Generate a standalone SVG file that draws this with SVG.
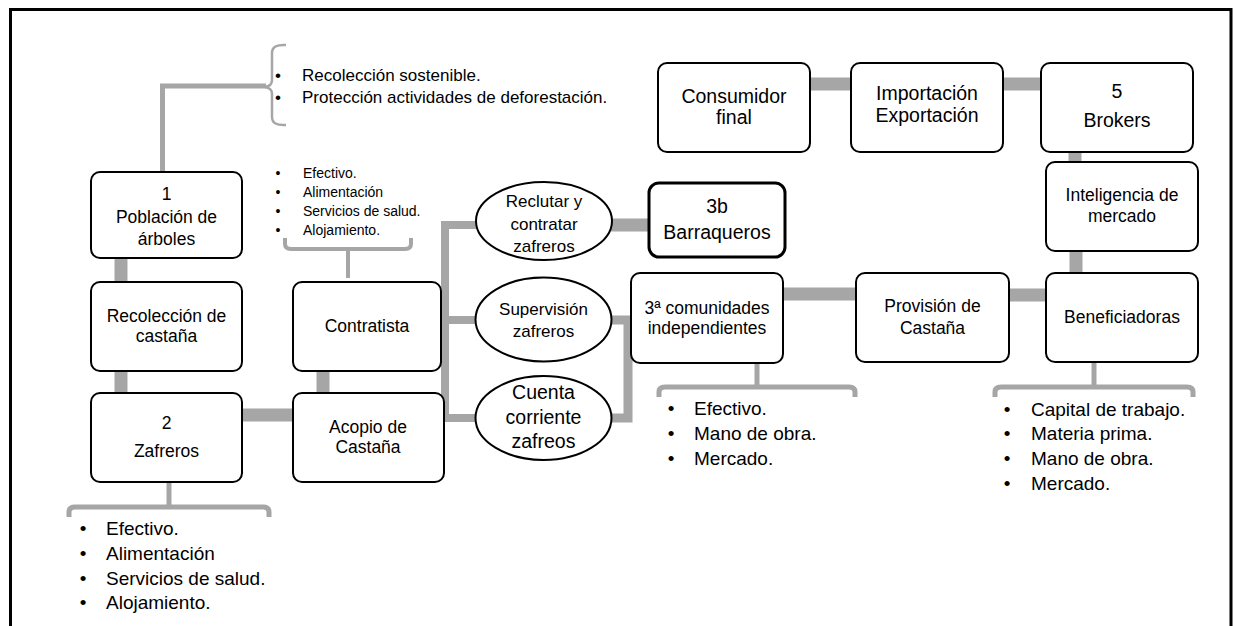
<svg xmlns="http://www.w3.org/2000/svg" width="1235" height="626" viewBox="0 0 1235 626">
<style>
.box{fill:#fff;stroke:#000;stroke-width:2}
.box3{fill:#fff;stroke:#000;stroke-width:3}
.ell{fill:#fff;stroke:#000;stroke-width:2}
.con{fill:none;stroke:#a6a6a6;stroke-width:13}
.thin{fill:none;stroke:#a6a6a6;stroke-width:5}
.br{fill:none;stroke:#a6a6a6;stroke-width:2.5}
text{font-family:"Liberation Sans",Arial,sans-serif;fill:#000}
.n{font-size:17.5px;text-anchor:middle}
.nt{font-size:19.5px;text-anchor:middle}
.ns{font-size:17px;text-anchor:middle}
.l1{font-size:17px}
.l2{font-size:14px}
.l3{font-size:19px}
.b{text-anchor:middle}
</style>
<rect x="0" y="0" width="1235" height="626" fill="#fff"/>
<path d="M10.5,626 V9.5 H1231 V626" fill="none" stroke="#000" stroke-width="3"/>

<g id="connectors">
<path class="thin" d="M162.5,172 V86 H266"/>
<path class="br" d="M286,45 Q272,44 272,53 V80 Q272,86 265,87 Q272,88 272,94 V117 Q272,126 286,125"/>
<path class="con" d="M121,258 V282"/>
<path class="con" d="M121,371 V393"/>
<path class="con" d="M242,415 H293"/>
<path class="con" d="M323,371 V393"/>
<path class="thin" d="M169,482 V507"/>
<path class="thin" d="M69,517 V512 Q69,507 75,507 H263 Q269,507 269,512 V517"/>
<path class="thin" style="stroke-width:4" d="M348,249 V278"/>
<path class="thin" style="stroke-width:4" d="M285,238 V244 Q285,249 291,249 H405 Q411,249 411,244 V238"/>
<path class="con" style="stroke-width:8" d="M476,225 H445 V418 H476 M445,320 H476"/>
<path class="con" style="stroke-width:9" d="M611,320 H628 V418 H611"/>
<path class="con" d="M611,225 H649"/>
<path class="con" d="M783,294 H856"/>
<path class="con" d="M1009,295 H1046"/>
<path class="con" d="M1076,251 V273"/>
<path class="con" d="M1075,152 V162"/>
<path class="con" d="M1003,84 H1041"/>
<path class="con" d="M810,84 H851"/>
<path class="thin" d="M757,363 V387"/>
<path class="thin" d="M659,397 V392 Q659,387 665,387 H849 Q855,387 855,392 V397"/>
<path class="thin" d="M1094,362 V387"/>
<path class="thin" d="M995,397 V392 Q995,387 1001,387 H1187 Q1193,387 1193,392 V397"/>
</g>

<g id="lista-recoleccion">
<text class="l1 b" x="278" y="81">•</text><text class="l1" x="302" y="81">Recolección sostenible.</text>
<text class="l1 b" x="278" y="103">•</text><text class="l1" x="302" y="103">Protección actividades de deforestación.</text>
</g>
<g id="lista-contratista">
<text class="l2 b" x="278" y="178">•</text><text class="l2" x="303" y="178">Efectivo.</text>
<text class="l2 b" x="278" y="197">•</text><text class="l2" x="303" y="197">Alimentación</text>
<text class="l2 b" x="278" y="216">•</text><text class="l2" x="303" y="216">Servicios de salud.</text>
<text class="l2 b" x="278" y="235">•</text><text class="l2" x="303" y="235">Alojamiento.</text>
</g>

<g id="n1"><rect class="box" x="91" y="172" width="151" height="86" rx="9"/>
<text class="n" x="166.5" y="200">1</text><text class="n" x="166.5" y="223">Población de</text><text class="n" x="166.5" y="245">árboles</text></g>
<g id="recoleccion"><rect class="box" x="91" y="282" width="151" height="89" rx="9"/>
<text class="n" x="166.5" y="322">Recolección de</text><text class="n" x="166.5" y="342">castaña</text></g>
<g id="zafreros"><rect class="box" x="91" y="393" width="151" height="89" rx="9"/>
<text class="n" x="166.5" y="429">2</text><text class="n" x="166.5" y="457">Zafreros</text></g>
<g id="lista-zafreros">
<text class="l3 b" x="83" y="535">•</text><text class="l3" x="106" y="535">Efectivo.</text>
<text class="l3 b" x="83" y="560">•</text><text class="l3" x="106" y="560">Alimentación</text>
<text class="l3 b" x="83" y="585">•</text><text class="l3" x="106" y="585">Servicios de salud.</text>
<text class="l3 b" x="83" y="609">•</text><text class="l3" x="106" y="609">Alojamiento.</text>
</g>
<g id="contratista"><rect class="box" x="293" y="282" width="148" height="89" rx="9"/>
<text class="n" x="367" y="332">Contratista</text></g>
<g id="acopio"><rect class="box" x="293" y="393" width="151" height="89" rx="9"/>
<text class="n" x="368" y="433">Acopio de</text><text class="n" x="368" y="453">Castaña</text></g>

<g id="reclutar"><ellipse class="ell" cx="544" cy="221" rx="68" ry="39"/>
<text class="ns" x="544" y="207">Reclutar y</text><text class="ns" x="544" y="230">contratar</text><text class="ns" x="544" y="252">zafreros</text></g>
<g id="supervision"><ellipse class="ell" cx="543.5" cy="319.5" rx="68" ry="42"/>
<text class="ns" x="543.5" y="315">Supervisión</text><text class="ns" x="543.5" y="337">zafreros</text></g>
<g id="cuenta"><ellipse class="ell" cx="543.5" cy="418" rx="68" ry="42"/>
<text class="nt" x="543.5" y="399">Cuenta</text><text class="nt" x="543.5" y="424">corriente</text><text class="nt" x="543.5" y="448">zafreos</text></g>

<g id="barraqueros"><rect class="box3" x="649" y="183" width="136" height="74" rx="10"/>
<text class="nt" x="717" y="213">3b</text><text class="nt" x="717" y="239">Barraqueros</text></g>
<g id="comunidades"><rect class="box" x="631" y="273" width="152" height="90" rx="9"/>
<text class="n" x="707" y="314">3ª comunidades</text><text class="n" x="707" y="334">independientes</text></g>
<g id="lista-comunidades">
<text class="l3 b" x="671" y="415">•</text><text class="l3" x="694" y="415">Efectivo.</text>
<text class="l3 b" x="671" y="440">•</text><text class="l3" x="694" y="440">Mano de obra.</text>
<text class="l3 b" x="671" y="465">•</text><text class="l3" x="694" y="465">Mercado.</text>
</g>
<g id="provision"><rect class="box" x="856" y="273" width="153" height="89" rx="9"/>
<text class="n" x="932.5" y="312">Provisión de</text><text class="n" x="932.5" y="334">Castaña</text></g>
<g id="beneficiadoras"><rect class="box" x="1046" y="273" width="152" height="89" rx="9"/>
<text class="n" x="1122" y="323">Beneficiadoras</text></g>
<g id="lista-beneficiadoras">
<text class="l3 b" x="1007" y="416">•</text><text class="l3" x="1031" y="416">Capital de trabajo.</text>
<text class="l3 b" x="1007" y="440">•</text><text class="l3" x="1031" y="440">Materia prima.</text>
<text class="l3 b" x="1007" y="465">•</text><text class="l3" x="1031" y="465">Mano de obra.</text>
<text class="l3 b" x="1007" y="490">•</text><text class="l3" x="1031" y="490">Mercado.</text>
</g>
<g id="inteligencia"><rect class="box" x="1046" y="162" width="152" height="89" rx="9"/>
<text class="n" x="1122" y="201">Inteligencia de</text><text class="n" x="1122" y="222">mercado</text></g>
<g id="brokers"><rect class="box" x="1041" y="63" width="152" height="89" rx="9"/>
<text class="nt" x="1117" y="98">5</text><text class="nt" x="1117" y="127">Brokers</text></g>
<g id="importacion"><rect class="box" x="851" y="63" width="152" height="89" rx="9"/>
<text class="nt" x="927" y="100">Importación</text><text class="nt" x="927" y="122">Exportación</text></g>
<g id="consumidor"><rect class="box" x="658" y="63" width="152" height="89" rx="9"/>
<text class="nt" x="734" y="103">Consumidor</text><text class="nt" x="734" y="124">final</text></g>
</svg>
